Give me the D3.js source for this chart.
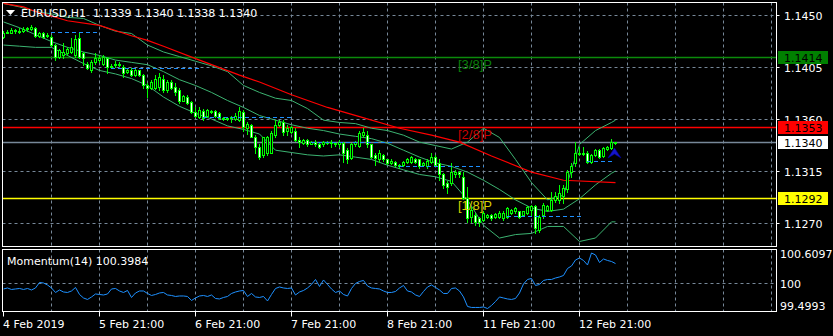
<!DOCTYPE html>
<html>
<head>
<meta charset="utf-8">
<script src="https://cdnjs.cloudflare.com/ajax/libs/d3/7.8.5/d3.min.js"></script>
<style>
  body { margin: 0; background: #000; }
  svg { display: block; }
  text { font-family: "DejaVu Sans", sans-serif; font-size: 11px; white-space: pre; }
</style>
</head>
<body>
<svg id="chart" width="833" height="336"></svg>
<script>
// EURUSD H1, one value per bar (bar 0 = 4 Feb 21:00)
const opens = [
  1.1431,1.1434,1.1434,1.1437,1.1436,1.1436,1.1438,1.1438,1.1439,1.1432,
  1.1434,1.1432,1.1431,1.1424,1.1414,1.1415,1.1417,1.1418,1.1415,1.1430,
  1.1417,1.1408,1.1402,1.1409,1.1411,1.1408,1.1413,1.1405,1.1407,1.1408,
  1.1405,1.1401,1.1402,1.1398,1.1402,1.1398,1.1389,1.1387,1.1387,1.1388,
  1.1395,1.1385,1.1392,1.1388,1.1385,1.1376,1.1379,1.1375,1.1366,1.1362,
  1.1367,1.1363,1.1366,1.1367,1.1365,1.1361,1.1361,1.1361,1.1360,1.1359,
  1.1366,1.1352,1.1355,1.1344,1.1336,1.1329,1.1331,1.1331,1.1346,1.1355,
  1.1357,1.1350,1.1349,1.1350,1.1342,1.1339,1.1342,1.1338,1.1340,1.1338,
  1.1338,1.1339,1.1339,1.1339,1.1338,1.1339,1.1333,1.1326,1.1338,1.1337,
  1.1346,1.1346,1.1338,1.1329,1.1325,1.1329,1.1325,1.1322,1.1323,1.1320,
  1.1320,1.1323,1.1323,1.1325,1.1325,1.1320,1.1319,1.1323,1.1327,1.1322,
  1.1312,1.1305,1.1305,1.1312,1.1314,1.1310,1.1292,1.1275,1.1277,1.1274,
  1.1273,1.1275,1.1277,1.1275,1.1275,1.1274,1.1275,1.1279,1.1280,1.1280,
  1.1277,1.1279,1.1281,1.1285,1.1264,1.1277,1.1281,1.1281,1.1290,1.1290,
  1.1293,1.1299,1.1314,1.1322,1.1331,1.1330,1.1331,1.1323,1.1329,1.1333,
  1.1328,1.1334,1.1335,1.1339]
const highs = [
  1.1436,1.1437,1.1439,1.1438,1.1439,1.1440,1.1440,1.1441,1.1440,1.1435,
  1.1435,1.1434,1.1433,1.1425,1.1421,1.1426,1.1422,1.1430,1.1433,1.1434,
  1.1418,1.1409,1.1411,1.1417,1.1415,1.1415,1.1414,1.1408,1.1410,1.1409,
  1.1407,1.1403,1.1404,1.1403,1.1402,1.1399,1.1391,1.1394,1.1398,1.1400,
  1.1398,1.1394,1.1394,1.1391,1.1387,1.1381,1.1381,1.1376,1.1370,1.1370,
  1.1369,1.1369,1.1368,1.1368,1.1366,1.1362,1.1362,1.1363,1.1365,1.1370,
  1.1368,1.1357,1.1356,1.1346,1.1338,1.1344,1.1345,1.1350,1.1359,1.1359,
  1.1359,1.1355,1.1354,1.1352,1.1344,1.1343,1.1343,1.1341,1.1342,1.1339,
  1.1341,1.1341,1.1342,1.1340,1.1342,1.1340,1.1335,1.1339,1.1341,1.1350,
  1.1352,1.1350,1.1338,1.1331,1.1333,1.1330,1.1325,1.1325,1.1324,1.1321,
  1.1324,1.1326,1.1328,1.1326,1.1325,1.1323,1.1325,1.1331,1.1329,1.1325,
  1.1313,1.1306,1.1322,1.1316,1.1315,1.1314,1.1301,1.1284,1.1279,1.1275,
  1.1280,1.1278,1.1278,1.1279,1.1280,1.1280,1.1284,1.1282,1.1284,1.1280,
  1.1280,1.1285,1.1286,1.1286,1.1277,1.1287,1.1286,1.1297,1.1297,1.1303,
  1.1303,1.1316,1.1322,1.1340,1.1336,1.1336,1.1332,1.1330,1.1334,1.1334,
  1.1336,1.1337,1.1343,1.1340]
const lows = [
  1.1430,1.1434,1.1434,1.1434,1.1434,1.1435,1.1436,1.1437,1.1431,1.1431,
  1.1430,1.1431,1.1423,1.1411,1.1413,1.1413,1.1415,1.1417,1.1414,1.1413,
  1.1407,1.1403,1.1401,1.1408,1.1409,1.1407,1.1400,1.1404,1.1405,1.1406,
  1.1396,1.1400,1.1397,1.1397,1.1397,1.1387,1.1379,1.1386,1.1386,1.1385,
  1.1383,1.1383,1.1386,1.1381,1.1374,1.1376,1.1373,1.1365,1.1362,1.1361,
  1.1359,1.1362,1.1365,1.1362,1.1360,1.1359,1.1359,1.1357,1.1359,1.1358,
  1.1350,1.1347,1.1344,1.1331,1.1325,1.1327,1.1329,1.1331,1.1344,1.1354,
  1.1346,1.1346,1.1348,1.1341,1.1336,1.1338,1.1337,1.1338,1.1337,1.1335,
  1.1337,1.1338,1.1336,1.1337,1.1336,1.1323,1.1322,1.1325,1.1337,1.1336,
  1.1344,1.1336,1.1326,1.1320,1.1323,1.1324,1.1321,1.1321,1.1319,1.1318,
  1.1319,1.1322,1.1322,1.1322,1.1318,1.1319,1.1318,1.1322,1.1319,1.1307,
  1.1300,1.1296,1.1303,1.1310,1.1310,1.1291,1.1271,1.1271,1.1268,1.1267,
  1.1272,1.1274,1.1273,1.1274,1.1274,1.1273,1.1274,1.1278,1.1279,1.1274,
  1.1276,1.1278,1.1277,1.1261,1.1262,1.1274,1.1280,1.1280,1.1288,1.1287,
  1.1287,1.1297,1.1310,1.1319,1.1329,1.1329,1.1322,1.1322,1.1328,1.1326,
  1.1327,1.1333,1.1334,1.1338]
const closes = [
  1.1434,1.1435,1.1437,1.1436,1.1435,1.1438,1.1439,1.1440,1.1432,1.1434,
  1.1431,1.1433,1.1424,1.1414,1.1420,1.1418,1.1421,1.1422,1.1429,1.1414,
  1.1413,1.1404,1.1409,1.1413,1.1413,1.1414,1.1405,1.1406,1.1408,1.1407,
  1.1400,1.1402,1.1398,1.1402,1.1398,1.1389,1.1387,1.1392,1.1395,1.1396,
  1.1385,1.1392,1.1387,1.1383,1.1376,1.1380,1.1374,1.1366,1.1363,1.1368,
  1.1361,1.1368,1.1367,1.1363,1.1361,1.1360,1.1360,1.1362,1.1363,1.1367,
  1.1353,1.1356,1.1344,1.1336,1.1327,1.1344,1.1344,1.1348,1.1355,1.1357,
  1.1349,1.1352,1.1353,1.1342,1.1340,1.1342,1.1338,1.1340,1.1338,1.1336,
  1.1340,1.1340,1.1340,1.1338,1.1340,1.1331,1.1325,1.1338,1.1340,1.1348,
  1.1349,1.1338,1.1327,1.1326,1.1331,1.1325,1.1322,1.1324,1.1320,1.1319,
  1.1323,1.1325,1.1327,1.1323,1.1319,1.1322,1.1324,1.1327,1.1320,1.1312,
  1.1303,1.1301,1.1314,1.1314,1.1312,1.1292,1.1274,1.1281,1.1271,1.1271,
  1.1279,1.1277,1.1274,1.1278,1.1279,1.1279,1.1283,1.1281,1.1283,1.1275,
  1.1280,1.1284,1.1285,1.1266,1.1275,1.1286,1.1285,1.1290,1.1293,1.1296,
  1.1300,1.1314,1.1319,1.1331,1.1330,1.1331,1.1323,1.1329,1.1333,1.1327,
  1.1335,1.1336,1.1340,1.1340]

// Momentum(14), one value per bar
const momentum = [
  99.89,99.91,99.88,99.89,99.90,99.88,99.90,99.87,99.91,100.02,
  100.01,99.97,99.91,99.82,99.87,99.83,99.82,99.85,99.92,99.78,
  99.71,99.68,99.73,99.79,99.78,99.77,99.79,99.89,99.90,99.85,
  99.82,99.86,99.72,99.81,99.85,99.85,99.80,99.76,99.78,99.81,
  99.82,99.77,99.76,99.74,99.75,99.75,99.74,99.66,99.71,99.75,
  99.76,99.74,99.77,99.70,99.69,99.72,99.74,99.80,99.83,99.85,
  99.86,99.74,99.80,99.73,99.72,99.74,99.65,99.78,99.90,99.93,
  99.91,99.90,99.91,99.77,99.83,99.86,99.91,99.98,100.08,99.94,
  100.07,99.98,99.89,99.82,99.85,99.78,99.75,99.90,100.00,100.04,
  100.06,99.95,99.91,99.90,99.89,99.85,99.82,99.82,99.84,99.91,
  99.96,99.85,99.83,99.77,99.74,99.84,99.93,99.97,99.92,99.87,
  99.80,99.80,99.90,99.91,99.85,99.73,99.54,99.52,99.52,99.52,
  99.53,99.4993,99.56,99.64,99.73,99.71,99.69,99.68,99.70,99.81,
  99.99,100.08,100.10,99.96,99.98,100.06,100.08,100.08,100.11,100.13,
  100.16,100.30,100.35,100.47,100.51,100.46,100.37,100.6097,100.57,100.42,
  100.49,100.46,100.44,100.3984]
const momentumRange = [99.4993, 100.6097]

// Bollinger bands, read every 4th bar
const bbBars = d3.range(0, 153, 4).concat([153])
const bbUpper = [
  1.1460,1.1457,1.1453,1.1451,1.1448,1.1447,1.1441,1.1436,1.1434,1.1424,
  1.1418,1.1414,1.1410,1.1406,1.1401,1.1389,1.1383,1.1378,1.1376,1.1369,
  1.1359,1.1357,1.1356,1.1352,1.1350,1.1346,1.1340,1.1337,1.1334,1.1340,
  1.1352,1.1344,1.1325,1.1305,1.1290,1.1294,1.1338,1.1350,1.1357,1.1359]
const bbMiddle = [
  1.1444,1.1439,1.1433,1.1427,1.1422,1.1418,1.1415,1.1411,1.1409,1.1407,
  1.1401,1.1394,1.1389,1.1383,1.1376,1.1370,1.1363,1.1359,1.1355,1.1352,
  1.1350,1.1347,1.1345,1.1343,1.1339,1.1333,1.1327,1.1322,1.1319,1.1314,
  1.1307,1.1299,1.1290,1.1283,1.1280,1.1282,1.1291,1.1303,1.1313,1.1315]
const bbLower = [
  1.1424,1.1423,1.1422,1.1422,1.1415,1.1408,1.1402,1.1399,1.1395,1.1389,
  1.1379,1.1371,1.1365,1.1360,1.1354,1.1351,1.1347,1.1333,1.1331,1.1329,
  1.1328,1.1329,1.1327,1.1325,1.1320,1.1316,1.1312,1.1310,1.1306,1.1290,
  1.1268,1.1257,1.1260,1.1261,1.1267,1.1267,1.1254,1.1257,1.1271,1.1271]

// red moving average
const maBars = [0,5,8,16,24,32,36,40,49,59,64,72,81,89,99,107,114,122,132,140,153]
const maValues = [1.1460,1.1457,1.1453,1.1445,1.1441,1.1432,1.1428,1.1423,1.1411,1.1398,
  1.1392,1.1381,1.1370,1.1362,1.1352,1.1346,1.1340,1.1328,1.1314,1.1307,1.1305]

// blue dashed support / resistance pieces
const srPrices = [1.1435, 1.1404, 1.1362, 1.1340, 1.1319, 1.1276, 1.1324]
const srFrom = [12, 27, 50, 77, 99, 126, 146]
const srTo = [24, 49, 72, 97, 120, 145, 152]

// Murrey math levels
const mmNames = ['[3/8]P', '[2/8]P', '[1/8]P']
const mmPrices = [1.1414, 1.1353, 1.1292]
const mmLine = ['#0b8a0b', '#ff0000', '#ffff00']
const mmText = ['#0a800a', '#cc0000', '#d8d000']
const bidPrice = 1.1340

const priceTicks = [1.1450, 1.1405, 1.1360, 1.1315, 1.1270]
const timeBars = [0, 24, 48, 72, 96, 120, 144]
const timeLabels = ['4 Feb 2019', '5 Feb 21:00', '6 Feb 21:00', '7 Feb 21:00', '8 Feb 21:00', '11 Feb 21:00', '12 Feb 21:00']

const svg = d3.select('#chart')
svg.append('rect').attr('width', 833).attr('height', 336).attr('fill', '#000')

const x = d3.scaleLinear().domain([0, 193]).range([3, 775])
const y = d3.scaleLinear().domain([1.1270, 1.1450]).range([223, 15])
const ym = d3.scaleLinear().domain(momentumRange).range([308.5, 253])

const GRID = '#778899'
const L = 2.5, R = 776.5, T = 2.5, B = 246.5, MT = 249.5, MB = 311.5

const defs = svg.append('defs')
defs.append('clipPath').attr('id', 'clipMain').append('rect').attr('x', L).attr('y', T).attr('width', R - L).attr('height', B - T)
defs.append('clipPath').attr('id', 'clipSub').append('rect').attr('x', L).attr('y', MT).attr('width', R - L).attr('height', MB - MT)

const main = svg.append('g').attr('clip-path', 'url(#clipMain)')
const sub = svg.append('g').attr('clip-path', 'url(#clipSub)')

// grid
const gridBars = d3.range(12, 193, 12)
gridBars.forEach(b => {
  [[T, B, main], [MT, MB, sub]].forEach(([a, z, g]) => {
    g.append('line').attr('x1', x(b) + 0.5).attr('x2', x(b) + 0.5).attr('y1', a).attr('y2', z)
      .attr('stroke', GRID).attr('stroke-dasharray', '3,3')
  })
})
priceTicks.forEach(p => {
  main.append('line').attr('x1', L).attr('x2', R).attr('y1', Math.round(y(p)) + 0.5).attr('y2', Math.round(y(p)) + 0.5)
    .attr('stroke', GRID).attr('stroke-dasharray', '3,3')
})
sub.append('line').attr('x1', L).attr('x2', R).attr('y1', Math.round(ym(100)) + 0.5).attr('y2', Math.round(ym(100)) + 0.5)
  .attr('stroke', GRID).attr('stroke-dasharray', '3,3')

// horizontal level lines
mmPrices.forEach((p, k) => {
  main.append('line').attr('x1', L).attr('x2', R).attr('y1', Math.round(y(p)) + 0.5).attr('y2', Math.round(y(p)) + 0.5)
    .attr('stroke', mmLine[k]).attr('stroke-width', 1.5)
})
main.append('line').attr('x1', L).attr('x2', R).attr('y1', Math.round(y(bidPrice)) + 0.5).attr('y2', Math.round(y(bidPrice)) + 0.5)
  .attr('stroke', GRID).attr('stroke-width', 1.5)

// indicators
const bandLine = d3.line().x(d => x(d[0]) + 0.5).y(d => y(d[1]))
;[bbUpper, bbMiddle, bbLower].forEach(vals => {
  main.append('path').datum(bbBars.map((b, k) => [b, vals[k]]))
    .attr('fill', 'none').attr('stroke', '#3cb371').attr('stroke-width', 1).attr('d', bandLine)
})
main.append('path').datum(maBars.map((b, k) => [b, maValues[k]]))
  .attr('fill', 'none').attr('stroke', '#ff0000').attr('stroke-width', 1.2).attr('d', bandLine)

// candles
const candles = main.append('g')
closes.forEach((c, i) => {
  const cx = x(i)
  const o = opens[i]
  const yh = Math.round(y(highs[i])), yl = Math.round(y(lows[i]))
  const top = Math.round(y(Math.max(o, c))), bot = Math.round(y(Math.min(o, c)))
  candles.append('rect').attr('x', cx).attr('y', yh).attr('width', 1).attr('height', yl - yh + 1).attr('fill', '#00ff00')
  candles.append('rect').attr('x', cx - 1).attr('y', top).attr('width', 3).attr('height', bot - top + 1).attr('fill', '#00ff00')
  if (bot - top >= 2) {
    candles.append('rect').attr('x', cx).attr('y', top + 1).attr('width', 1).attr('height', bot - top - 1)
      .attr('fill', c >= o ? '#000' : '#fff')
  }
})

// blue dashed pieces
srPrices.forEach((p, k) => {
  main.append('line').attr('x1', x(srFrom[k])).attr('x2', x(srTo[k]) + 1)
    .attr('y1', Math.round(y(p)) + 0.5).attr('y2', Math.round(y(p)) + 0.5)
    .attr('stroke', '#1e90ff').attr('stroke-dasharray', '4,3')
})

// signal arrow under the last bar
const last = closes.length - 1
const ax = x(last) - 0.5, ay = Math.round(y(lows[last])) + 4
main.append('path')
  .attr('d', `M${ax},${ay} L${ax + 6.5},${ay + 10} L${ax},${ay + 6} L${ax - 6.5},${ay + 10} Z`)
  .attr('fill', '#1515c8').attr('stroke', '#0000a0').attr('stroke-width', 0.6)

// murrey labels
mmNames.forEach((t, k) => {
  main.append('text').attr('x', 458).attr('y', Math.round(y(mmPrices[k])) + 12)
    .style('font-family', '"Liberation Sans", Arial, sans-serif').style('font-size', '13px')
    .attr('fill', mmText[k]).text(t)
})

// title
svg.append('path').attr('d', 'M6,10 L15,10 L10.5,15 Z').attr('fill', '#fff')
svg.append('text').attr('x', 21).attr('y', 17).attr('fill', '#fff')
  .text(`EURUSD,H1  ${opens[last].toFixed(4)} ${highs[last].toFixed(4)} ${lows[last].toFixed(4)} ${closes[last].toFixed(4)}`)

// momentum line
const momLine = d3.line().x((d, i) => x(i) + 0.5).y(d => ym(d))
sub.append('path').datum(momentum).attr('fill', 'none').attr('stroke', '#1e90ff').attr('stroke-width', 1).attr('d', momLine)
svg.append('text').attr('x', 7).attr('y', 265).attr('fill', '#fff')
  .text(`Momentum(14) ${momentum[last].toFixed(4)}`)

// frames
svg.append('rect').attr('x', L).attr('y', T).attr('width', R - L).attr('height', B - T)
  .attr('fill', 'none').attr('stroke', '#fff')
svg.append('rect').attr('x', L).attr('y', MT).attr('width', R - L).attr('height', MB - MT)
  .attr('fill', 'none').attr('stroke', '#fff')

// price axis
priceTicks.forEach(p => {
  const py = Math.round(y(p))
  svg.append('line').attr('x1', R).attr('x2', R + 3).attr('y1', py + 0.5).attr('y2', py + 0.5).attr('stroke', '#fff')
  svg.append('text').attr('x', 784).attr('y', py + 4.5).attr('fill', '#fff').text(p.toFixed(4))
})
const tags = [[mmPrices[0], '#008000'], [mmPrices[1], '#ff0000'], [bidPrice, '#ffffff'], [mmPrices[2], '#ffff00']]
tags.forEach(([p, col]) => {
  const py = Math.round(y(p))
  svg.append('rect').attr('x', 778).attr('y', py - 6).attr('width', 50).attr('height', 13).attr('fill', col)
  svg.append('text').attr('x', 784).attr('y', py + 4.5).attr('fill', '#000').text(p.toFixed(4))
})

// momentum axis
;[[momentumRange[1], momentumRange[1].toFixed(4), 5], [100, '100', 4.5], [momentumRange[0], momentumRange[0].toFixed(4), 1]].forEach(([v, t, dy]) => {
  svg.append('text').attr('x', 780).attr('y', Math.round(ym(v)) + dy).attr('fill', '#fff').text(t)
})

// time axis
timeBars.forEach((b, k) => {
  svg.append('line').attr('x1', x(b) + 0.5).attr('x2', x(b) + 0.5).attr('y1', MB).attr('y2', MB + 5).attr('stroke', '#fff')
  svg.append('text').attr('x', x(b)).attr('y', 328).attr('fill', '#fff').text(timeLabels[k])
})
</script>
</body>
</html>
